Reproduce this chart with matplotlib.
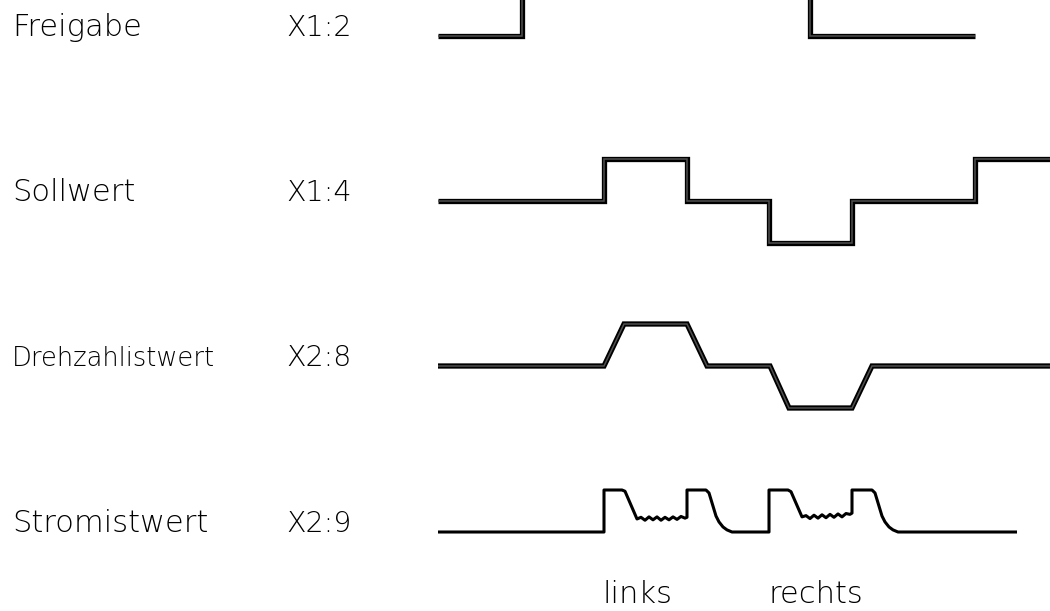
import matplotlib
matplotlib.use("Agg")
import matplotlib.pyplot as plt

# signal names and connector pins
names = ["Freigabe", "Sollwert", "Drehzahlistwert", "Stromistwert"]
pins = ["X1:2", "X1:4", "X2:8", "X2:9"]
bottom_labels = ["links", "rechts"]

# time points (drawing units) and levels (1 = full step)
frei_t = [438, 522, 522, 810, 810, 975]
frei_lv = [0, 0, 1.2, 1.2, 0, 0]

soll_t = [438, 604, 604, 687, 687, 769, 769, 852, 852, 975, 975, 1060]
soll_lv = [0, 0, 1, 1, 0, 0, -1, -1, 0, 0, 1, 1]

dreh_t = [438, 604, 624, 687, 707, 770, 789, 852, 872, 1060]
dreh_lv = [0, 0, 1, 1, 0, 0, -1, -1, 0, 0]

strom_t = [438, 604, 604, 622, 625, 637,
           641, 645, 649, 653, 657, 661, 665, 669, 673, 677, 681, 685,
           687, 687, 706, 709, 716, 719, 723, 727, 732,
           769, 769, 788, 791, 802,
           806, 810, 814, 818, 822, 826, 830, 834, 838, 842, 846, 850,
           852, 852, 872, 875, 882, 885, 889, 893, 898, 1017]
strom_lv = [0, 0, 1, 1, 0.97, 0.31,
            0.35, 0.28, 0.36, 0.29, 0.36, 0.28, 0.35, 0.29, 0.36, 0.30, 0.37, 0.33,
            0.35, 1, 1, 0.93, 0.38, 0.24, 0.12, 0.05, 0,
            0, 1, 1, 0.96, 0.36,
            0.39, 0.32, 0.40, 0.33, 0.41, 0.34, 0.42, 0.35, 0.43, 0.36, 0.44, 0.42,
            0.45, 1, 1, 0.93, 0.38, 0.24, 0.12, 0.05, 0, 0]

baselines = [36, 201, 366, 532]
amp = 42

fig = plt.figure(figsize=(10.5, 6.11), dpi=100)
ax = fig.add_axes([0, 0, 1, 1])
ax.set_xlim(0, 1050)
ax.set_ylim(611, 0)
ax.axis("off")


def double_line(t, lv, base):
    y = [base - amp * v for v in lv]
    ax.plot(t, y, color="black", lw=3.8, solid_joinstyle="miter",
            solid_capstyle="butt")
    ax.plot(t, y, color="#505050", lw=1.1, solid_joinstyle="miter",
            solid_capstyle="butt")


double_line(frei_t, frei_lv, baselines[0])
double_line(soll_t, soll_lv, baselines[1])
double_line(dreh_t, dreh_lv, baselines[2])

ax.plot(strom_t, [baselines[3] - amp * v for v in strom_lv], color="black",
        lw=2.2, solid_joinstyle="round", solid_capstyle="butt")

font = dict(family="DejaVu Sans", fontweight=200, color="black", fontsize=22)
for i in range(len(names)):
    kw = dict(font)
    if names[i] == "Drehzahlistwert":
        kw["fontsize"] = 18.5
    ax.text(12, baselines[i], names[i], ha="left", va="baseline", **kw)
    ax.text(286, baselines[i], pins[i], ha="left", va="baseline",
            **dict(font, fontsize=20.5))

ax.text(603, 603, bottom_labels[0], ha="left", va="baseline", **font)
ax.text(768, 603, bottom_labels[1], ha="left", va="baseline", **font)

fig.savefig("out.png", dpi=100)
